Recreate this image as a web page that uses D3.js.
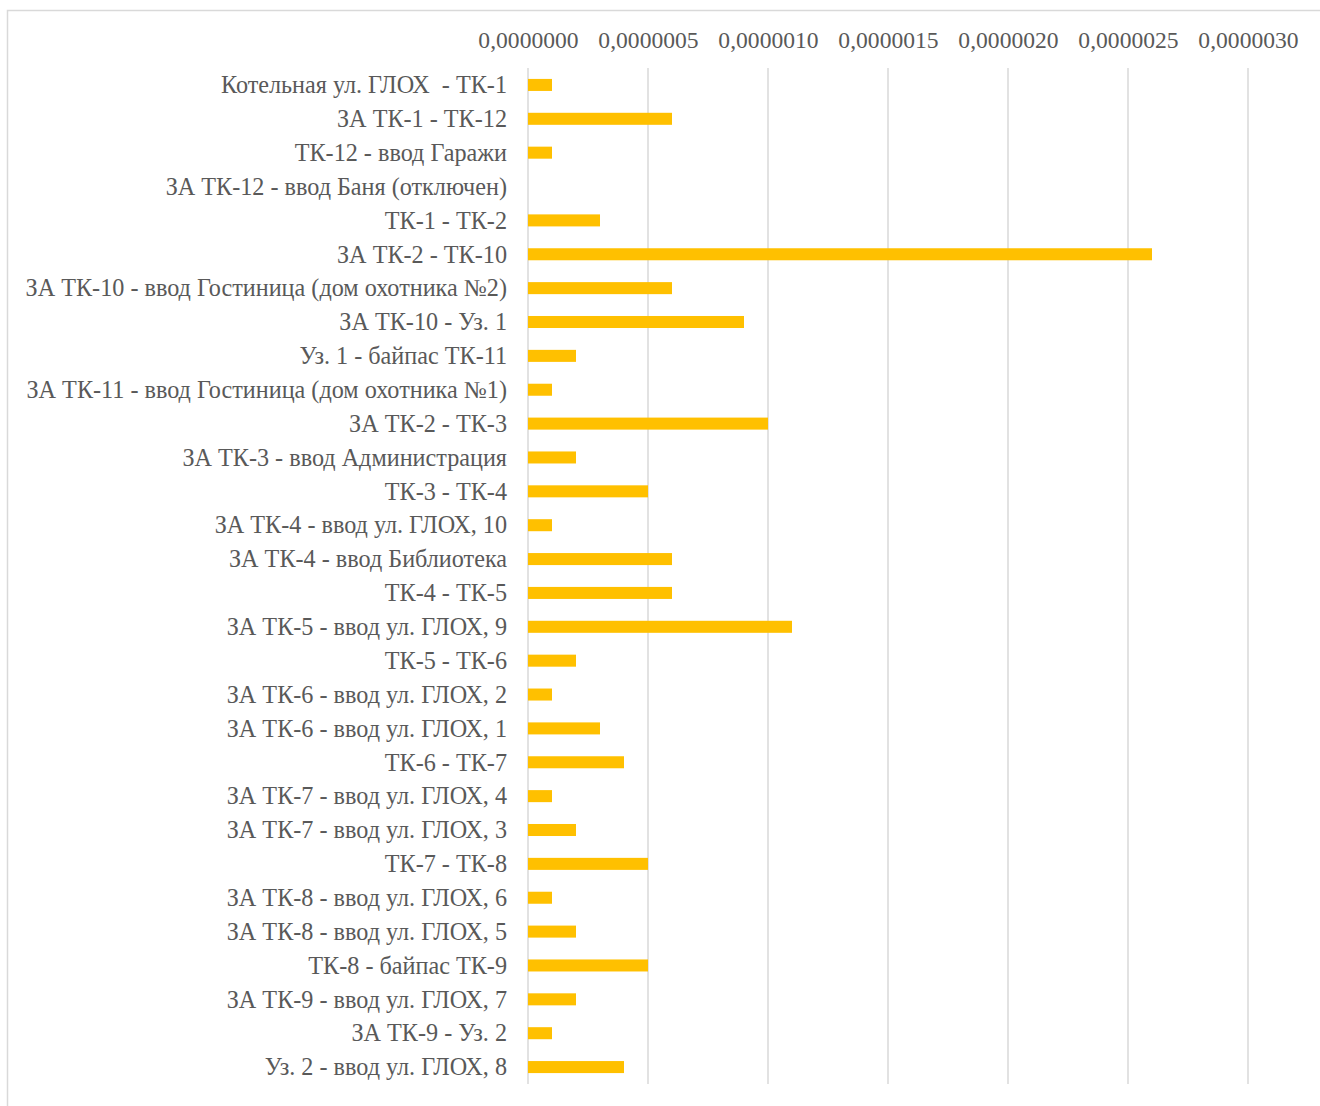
<!DOCTYPE html>
<html>
<head>
<meta charset="utf-8">
<script src="https://cdn.jsdelivr.net/npm/d3@7"></script>
<style>
  html, body { margin: 0; padding: 0; background: #fff; }
  svg { display: block; }
  text { font-family: "Liberation Serif", "Times New Roman", serif; fill: #595959; white-space: pre; }
</style>
</head>
<body>
<svg id="chart" width="1320" height="1106"></svg>
<script>
// Участки тепловой сети
const sections = [
  "Котельная ул. ГЛОХ  - ТК-1",
  "ЗА ТК-1 - ТК-12",
  "ТК-12 - ввод Гаражи",
  "ЗА ТК-12 - ввод Баня (отключен)",
  "ТК-1 - ТК-2",
  "ЗА ТК-2 - ТК-10",
  "ЗА ТК-10 - ввод Гостиница (дом охотника №2)",
  "ЗА ТК-10 - Уз. 1",
  "Уз. 1 - байпас ТК-11",
  "ЗА ТК-11 - ввод Гостиница (дом охотника №1)",
  "ЗА ТК-2 - ТК-3",
  "ЗА ТК-3 - ввод Администрация",
  "ТК-3 - ТК-4",
  "ЗА ТК-4 - ввод ул. ГЛОХ, 10",
  "ЗА ТК-4 - ввод Библиотека",
  "ТК-4 - ТК-5",
  "ЗА ТК-5 - ввод ул. ГЛОХ, 9",
  "ТК-5 - ТК-6",
  "ЗА ТК-6 - ввод ул. ГЛОХ, 2",
  "ЗА ТК-6 - ввод ул. ГЛОХ, 1",
  "ТК-6 - ТК-7",
  "ЗА ТК-7 - ввод ул. ГЛОХ, 4",
  "ЗА ТК-7 - ввод ул. ГЛОХ, 3",
  "ТК-7 - ТК-8",
  "ЗА ТК-8 - ввод ул. ГЛОХ, 6",
  "ЗА ТК-8 - ввод ул. ГЛОХ, 5",
  "ТК-8 - байпас ТК-9",
  "ЗА ТК-9 - ввод ул. ГЛОХ, 7",
  "ЗА ТК-9 - Уз. 2",
  "Уз. 2 - ввод ул. ГЛОХ, 8"
];

// Значение по каждому участку
const values = [
  0.0000001, 0.0000006, 0.0000001, 0.0000000, 0.0000003,
  0.0000026, 0.0000006, 0.0000009, 0.0000002, 0.0000001,
  0.0000010, 0.0000002, 0.0000005, 0.0000001, 0.0000006,
  0.0000006, 0.0000011, 0.0000002, 0.0000001, 0.0000003,
  0.0000004, 0.0000001, 0.0000002, 0.0000005, 0.0000001,
  0.0000002, 0.0000005, 0.0000002, 0.0000001, 0.0000004
];

const tickValues = [0, 0.0000005, 0.0000010, 0.0000015, 0.0000020, 0.0000025, 0.0000030];
const tickLabels = ["0,0000000", "0,0000005", "0,0000010", "0,0000015", "0,0000020", "0,0000025", "0,0000030"];

const data = sections.map((name, i) => ({ name, value: values[i] }));

const svg = d3.select("#chart");

// Рамка области диаграммы
svg.append("rect")
  .attr("x", 7.5).attr("y", 10.5)
  .attr("width", 1330).attr("height", 1110)
  .attr("fill", "none")
  .attr("stroke", "#d9d9d9")
  .attr("stroke-width", 1.5);

const plot = { left: 528, right: 1248, top: 68, bottom: 1084 };

const x = d3.scaleLinear()
  .domain([0, 0.0000030])
  .range([plot.left, plot.right]);

const y = d3.scaleBand()
  .domain(sections)
  .range([plot.top, plot.bottom])
  .paddingInner(0.645)
  .paddingOuter(0.3225);

// Вертикальные линии сетки
svg.append("g")
  .selectAll("line")
  .data(tickValues)
  .join("line")
  .attr("x1", d => x(d)).attr("x2", d => x(d))
  .attr("y1", plot.top).attr("y2", plot.bottom)
  .attr("stroke", "#d9d9d9")
  .attr("stroke-width", 1.5);

// Подписи оси значений сверху
const xAxis = d3.axisTop(x)
  .tickValues(tickValues)
  .tickSize(0)
  .tickPadding(0)
  .tickFormat((d, i) => tickLabels[i]);

const gx = svg.append("g")
  .attr("transform", "translate(0,48)")
  .call(xAxis);
gx.select(".domain").remove();
gx.selectAll("text")
  .attr("dy", 0)
  .attr("font-size", 23.6)
  .style("font-family", "'Liberation Serif', 'Times New Roman', serif")
  .attr("fill", "#595959");

// Столбцы
svg.append("g")
  .selectAll("rect")
  .data(data)
  .join("rect")
  .attr("x", x(0))
  .attr("y", d => y(d.name))
  .attr("width", d => x(d.value) - x(0))
  .attr("height", y.bandwidth())
  .attr("fill", "#ffc000");

// Подписи участков
const yAxis = d3.axisLeft(y)
  .tickSize(0)
  .tickPadding(21);

const gy = svg.append("g")
  .attr("transform", `translate(${plot.left},0)`)
  .call(yAxis);
gy.select(".domain").remove();
gy.selectAll("text")
  .attr("font-size", 24.2)
  .attr("dy", "0.34em")
  .style("font-family", "'Liberation Serif', 'Times New Roman', serif")
  .style("white-space", "pre")
  .attr("fill", "#595959");
</script>
</body>
</html>
